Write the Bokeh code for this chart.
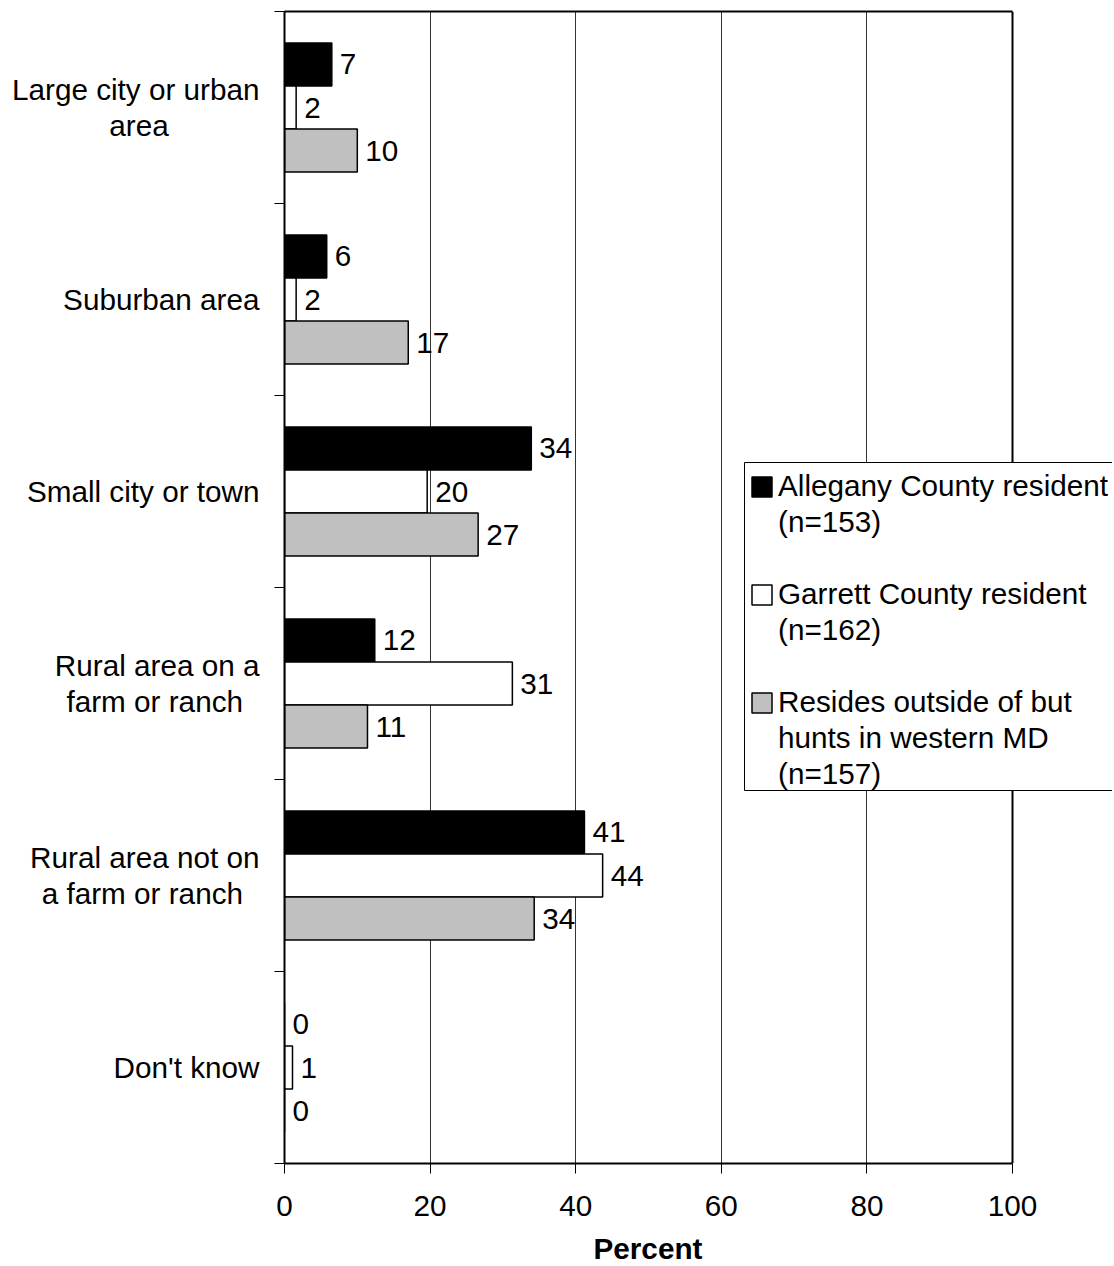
from bokeh.plotting import figure
from bokeh.models import (Range1d, FixedTicker, Legend, LegendItem, LinearAxis, Span,
                          Title, BoxAnnotation)
from bokeh.embed import file_html
from bokeh.resources import INLINE
from bokeh.core.properties import value

# ---------------- data ----------------
categories = [
    "Large city or urban\narea",
    "Suburban area",
    "Small city or town",
    "Rural area on a\nfarm or ranch",
    "Rural area not on\na farm or ranch",
    "Don't know",
]
legend_lines = [
    ["Allegany County resident", "(n=153)"],
    ["Garrett County resident", "(n=162)"],
    ["Resides outside of but", "hunts in western MD", "(n=157)"],
]
allegany = [6.5, 5.8, 33.9, 12.4, 41.2, 0.0]
garrett = [1.6, 1.6, 19.6, 31.3, 43.7, 1.1]
outside = [10.0, 17.0, 26.6, 11.4, 34.3, 0.0]
allegany_labels = ["7", "6", "34", "12", "41", "0"]
garrett_labels = ["2", "2", "20", "31", "44", "1"]
outside_labels = ["10", "17", "27", "11", "34", "0"]
x_ticks = [0, 20, 40, 60, 80, 100]

# ---------------- style ----------------
FONT = "Liberation Sans"
FS = "29.7px"
fills = ["#000000", "#ffffff", "#c0c0c0"]
offsets = [-0.224, 0.0, 0.224]
bar_h = 0.224
X_MAX = 100
PX_X = 7.28          # pixels per percent
PX_Y = 192.0         # pixels per category band
FRAME_W, FRAME_H = 828, 1152
X_END = FRAME_W / PX_X  # frame extends right so the legend is not clipped
# trailing no-break spaces so the second line of a wrapped label sits centred
# under the first line (axis labels are right aligned line by line)
center_pad = [11, 0, 0, 2, 2, 0]
NBSP = "\u00a0"


def tick_label(text, pad):
    if "\n" not in text or pad == 0:
        return text
    first, second = text.split("\n", 1)
    return first + "\n" + second + NBSP * pad


n = len(categories)
p = figure(
    frame_width=FRAME_W, frame_height=FRAME_H,
    x_range=Range1d(0, X_END), y_range=Range1d(n, 0),
    output_backend="svg", toolbar_location=None,
    min_border_left=284, min_border_top=11, min_border_right=0, min_border_bottom=103,
)
p.background_fill_color = "white"
p.border_fill_color = "white"
p.outline_line_color = None

renderers = []
for k, (vals, labs) in enumerate(zip([allegany, garrett, outside],
                                     [allegany_labels, garrett_labels, outside_labels])):
    ys = [i + 0.5 + offsets[k] for i in range(n)]
    r = p.hbar(y=ys, left=0, right=vals, height=bar_h,
               fill_color=fills[k], line_color="black", line_width=1.5)
    renderers.append(r)
    p.text(x=vals, y=ys, text=labs, x_offset=8, text_baseline="middle",
           text_align="left", text_font=value(FONT), text_font_size=FS,
           text_color="black")

# bottom x axis
xa = p.xaxis[0]
xa.bounds = (0, X_MAX)
xa.ticker = FixedTicker(ticks=x_ticks)
xa.major_label_text_font = FONT
xa.major_label_text_font_size = FS
xa.major_label_text_color = "black"
xa.major_label_standoff = 22
xa.major_tick_in = 0
xa.major_tick_out = 10
xa.minor_tick_out = 0
xa.minor_tick_in = 0
xa.axis_line_width = 2
xa.axis_line_color = "black"
xa.major_tick_line_color = "black"

# axis title, centred under the 0-100 scale
p.add_layout(Title(text="Percent", align="left", offset=309, standoff=22,
                   text_font=FONT, text_font_size=FS, text_font_style="bold",
                   text_color="black"), "below")

# top border as an axis without ticks
top = LinearAxis(bounds=(0, X_MAX), ticker=FixedTicker(ticks=[]),
                 major_label_text_font_size="0px", major_tick_out=0, major_tick_in=0,
                 minor_tick_out=0, minor_tick_in=0, axis_line_width=2, axis_line_color="black")
p.add_layout(top, "above")

# left y axis: labels at category centres, tick marks at category boundaries
ya = p.yaxis[0]
ya.ticker = FixedTicker(ticks=[i + 0.5 for i in range(n)], minor_ticks=list(range(n + 1)))
ya.major_label_overrides = {i + 0.5: tick_label(categories[i], center_pad[i]) for i in range(n)}
ya.major_label_text_font = FONT
ya.major_label_text_font_size = FS
ya.major_label_text_color = "black"
ya.major_label_text_line_height = 1.12
ya.major_label_standoff = 15
ya.major_tick_in = 0
ya.major_tick_out = 0
ya.minor_tick_in = 0
ya.minor_tick_out = 10
ya.minor_tick_line_color = "black"
ya.axis_line_width = 2
ya.axis_line_color = "black"

# grid
p.xgrid.ticker = FixedTicker(ticks=x_ticks[1:-1])
p.xgrid.grid_line_color = "#333333"
p.xgrid.grid_line_width = 1
p.ygrid.grid_line_color = None

# right border of the plot area
p.add_layout(Span(location=X_MAX, dimension="height", line_color="black", line_width=2))

# legend frame (white box, runs off the right edge like the original)
p.add_layout(BoxAnnotation(left=(744 - 284) / PX_X, right=X_END + 5,
                           top=(462 - 11) / PX_Y, bottom=(790 - 11) / PX_Y,
                           fill_color="white", fill_alpha=1.0,
                           line_color="black", line_width=1, line_alpha=1.0))

# legend: first line of each entry carries the swatch
items = []
for k, lines in enumerate(legend_lines):
    if k > 0:
        items.append(LegendItem(label=" ", renderers=[]))
    items.append(LegendItem(label=lines[0], renderers=[renderers[k]]))
    for ln in lines[1:]:
        items.append(LegendItem(label=ln, renderers=[]))

legend = Legend(
    items=items,
    location=(465, 371),
    border_line_color=None,
    background_fill_alpha=0.0,
    label_text_font=FONT, label_text_font_size=FS, label_text_color="black",
    glyph_width=25, glyph_height=25, label_standoff=4, label_height=36,
    padding=0, spacing=0, margin=0,
)
p.add_layout(legend)

open("out.html", "w").write(file_html(p, INLINE))
